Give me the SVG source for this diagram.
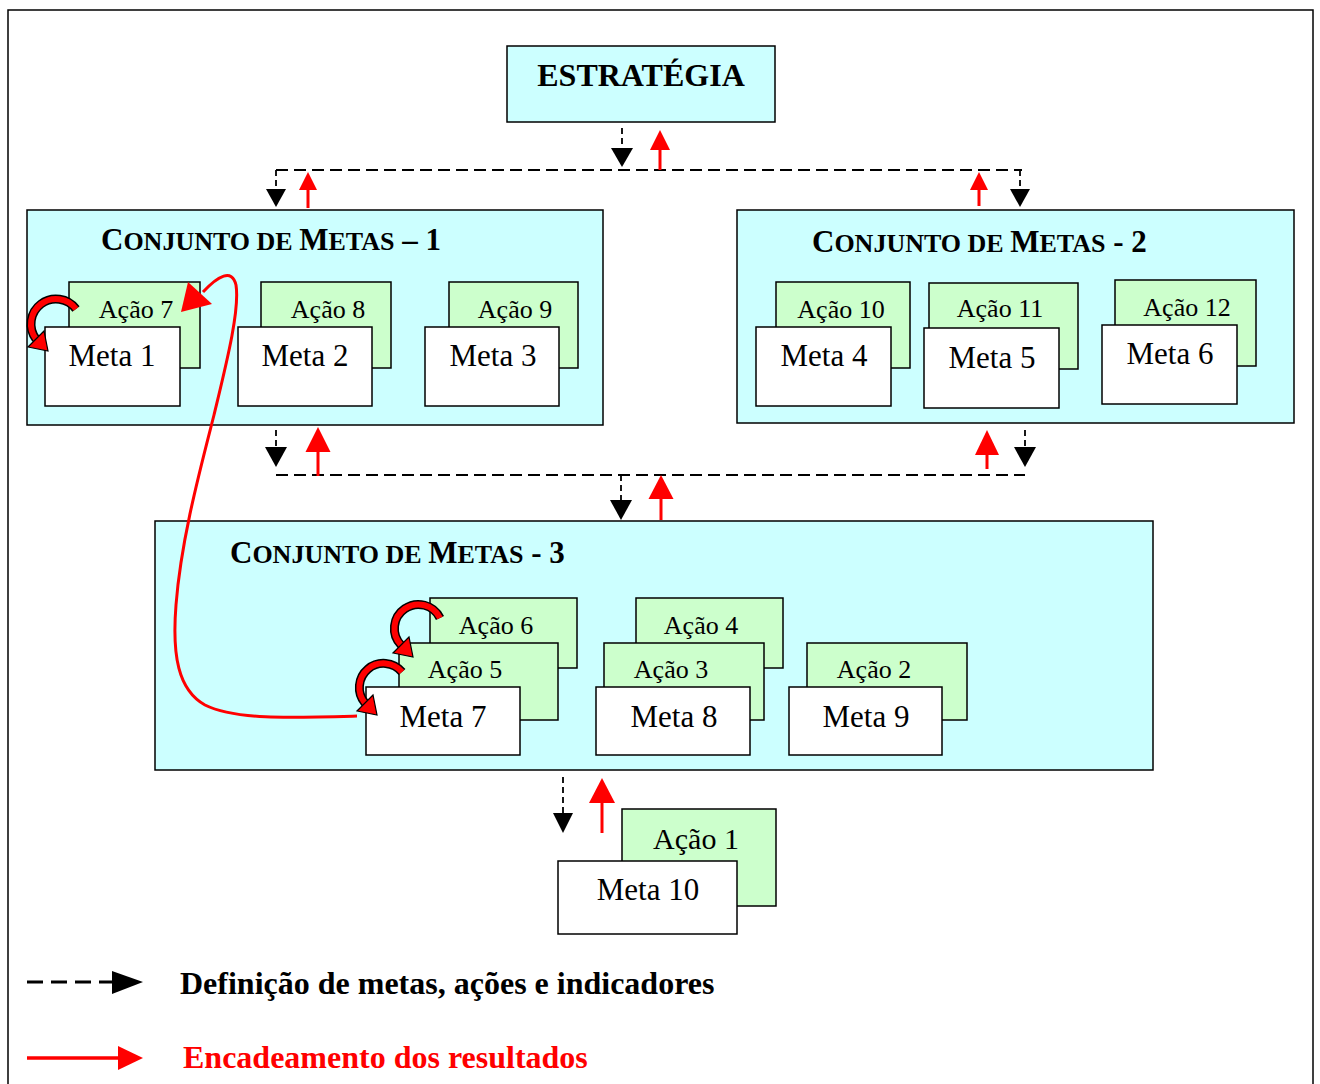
<svg xmlns="http://www.w3.org/2000/svg" width="1320" height="1084" viewBox="0 0 1320 1084">
<style>
.box{fill:#CCFFFF;stroke:#000;stroke-width:1.5}
.act{fill:#CCFFCC;stroke:#000;stroke-width:1.5}
.meta{fill:#FFFFFF;stroke:#000;stroke-width:1.5}
.t{font-family:"Liberation Serif","Times New Roman",serif;fill:#000}
.ta{font-size:26px;text-anchor:middle}
.tm{font-size:31px;text-anchor:middle}
.b{font-weight:bold}
.dash{stroke:#000;stroke-width:2;stroke-dasharray:12 6;fill:none}
.vd{stroke:#000;stroke-width:1.8;stroke-dasharray:6 4;fill:none}
.bh{fill:#000}
.rl{stroke:#FF0000;stroke-width:3;fill:none}
.rh{fill:#FF0000}
.loopo{stroke:#000;stroke-width:9;fill:none}
.loopi{stroke:#FF0000;stroke-width:6;fill:none}
.looph{fill:#FF0000;stroke:#000;stroke-width:1.2}
</style>
<rect x="8" y="10" width="1305" height="1090" fill="#FFFFFF" stroke="#000" stroke-width="1.5"/>

<g id="estrategia">
<rect class="box" x="507" y="46" width="268" height="76"/>
<text class="t b" x="641" y="86" font-size="32" text-anchor="middle">ESTRATÉGIA</text>
</g>

<g id="conjunto1">
<rect class="box" x="27" y="210" width="576" height="215"/>
<text class="t b" x="101" y="250"><tspan font-size="31">C</tspan><tspan font-size="26">ONJUNTO DE </tspan><tspan font-size="31">M</tspan><tspan font-size="26">ETAS</tspan><tspan font-size="31"> – 1</tspan></text>
</g>
<g id="acao7"><rect class="act" x="69" y="282" width="131" height="86"/><text class="t ta" x="136" y="318">Ação 7</text></g>
<g id="meta1"><rect class="meta" x="45" y="327" width="135" height="79"/><text class="t tm" x="112" y="366">Meta 1</text></g>
<g id="acao8"><rect class="act" x="261" y="282" width="130" height="86"/><text class="t ta" x="328" y="318">Ação 8</text></g>
<g id="meta2"><rect class="meta" x="238" y="327" width="134" height="79"/><text class="t tm" x="305" y="366">Meta 2</text></g>
<g id="acao9"><rect class="act" x="449" y="282" width="129" height="86"/><text class="t ta" x="515" y="318">Ação 9</text></g>
<g id="meta3"><rect class="meta" x="425" y="327" width="134" height="79"/><text class="t tm" x="493" y="366">Meta 3</text></g>

<g id="conjunto2">
<rect class="box" x="737" y="210" width="557" height="213"/>
<text class="t b" x="812" y="252"><tspan font-size="31">C</tspan><tspan font-size="26">ONJUNTO DE </tspan><tspan font-size="31">M</tspan><tspan font-size="26">ETAS</tspan><tspan font-size="31"> - 2</tspan></text>
</g>
<g id="acao10"><rect class="act" x="776" y="282" width="134" height="86"/><text class="t ta" x="841" y="318">Ação 10</text></g>
<g id="meta4"><rect class="meta" x="756" y="327" width="135" height="79"/><text class="t tm" x="824" y="366">Meta 4</text></g>
<g id="acao11"><rect class="act" x="929" y="283" width="149" height="86"/><text class="t ta" x="1000" y="317">Ação 11</text></g>
<g id="meta5"><rect class="meta" x="924" y="328" width="135" height="80"/><text class="t tm" x="992" y="368">Meta 5</text></g>
<g id="acao12"><rect class="act" x="1115" y="280" width="141" height="86"/><text class="t ta" x="1187" y="316">Ação 12</text></g>
<g id="meta6"><rect class="meta" x="1102" y="325" width="135" height="79"/><text class="t tm" x="1170" y="364">Meta 6</text></g>

<g id="conjunto3">
<rect class="box" x="155" y="521" width="998" height="249"/>
<text class="t b" x="230" y="563"><tspan font-size="31">C</tspan><tspan font-size="26">ONJUNTO DE </tspan><tspan font-size="31">M</tspan><tspan font-size="26">ETAS</tspan><tspan font-size="31"> - 3</tspan></text>
</g>
<g id="acao6"><rect class="act" x="430" y="598" width="147" height="70"/><text class="t ta" x="496" y="634">Ação 6</text></g>
<g id="acao5"><rect class="act" x="399" y="643" width="159" height="77"/><text class="t ta" x="465" y="678">Ação 5</text></g>
<g id="meta7"><rect class="meta" x="366" y="687" width="154" height="68"/><text class="t tm" x="443" y="727">Meta 7</text></g>
<g id="acao4"><rect class="act" x="636" y="598" width="147" height="70"/><text class="t ta" x="701" y="634">Ação 4</text></g>
<g id="acao3"><rect class="act" x="604" y="643" width="160" height="77"/><text class="t ta" x="671" y="678">Ação 3</text></g>
<g id="meta8"><rect class="meta" x="596" y="687" width="154" height="68"/><text class="t tm" x="674" y="727">Meta 8</text></g>
<g id="acao2"><rect class="act" x="807" y="643" width="160" height="77"/><text class="t ta" x="874" y="678">Ação 2</text></g>
<g id="meta9"><rect class="meta" x="789" y="687" width="153" height="68"/><text class="t tm" x="866" y="727">Meta 9</text></g>

<g id="acao1"><rect class="act" x="622" y="809" width="154" height="97"/><text class="t" x="696" y="849" font-size="30" text-anchor="middle">Ação 1</text></g>
<g id="meta10"><rect class="meta" x="558" y="861" width="179" height="73"/><text class="t" x="648" y="900" font-size="31" text-anchor="middle">Meta 10</text></g>

<g id="connectors">
<line class="dash" x1="276" y1="170" x2="1022" y2="170"/>
<line class="dash" x1="276" y1="475" x2="1025" y2="475"/>
<line class="vd" x1="622" y1="128" x2="622" y2="148"/><polygon class="bh" points="611,148 633,148 622,167"/>
<line class="vd" x1="276" y1="170" x2="276" y2="190"/><polygon class="bh" points="266,189 286,189 276,207"/>
<line class="vd" x1="1020" y1="170" x2="1020" y2="190"/><polygon class="bh" points="1010,189 1030,189 1020,207"/>
<line class="vd" x1="276" y1="430" x2="276" y2="448"/><polygon class="bh" points="265,447 287,447 276,467"/>
<line class="vd" x1="1025" y1="430" x2="1025" y2="448"/><polygon class="bh" points="1014,447 1036,447 1025,467"/>
<line class="vd" x1="621" y1="475" x2="621" y2="501"/><polygon class="bh" points="610,500 632,500 621,520"/>
<line class="vd" x1="563" y1="777" x2="563" y2="814"/><polygon class="bh" points="553,813 573,813 563,833"/>
<line class="rl" x1="660" y1="149" x2="660" y2="170"/><polygon class="rh" points="650,150 670,150 660,130"/>
<line class="rl" x1="308" y1="189" x2="308" y2="208"/><polygon class="rh" points="299,190 317,190 308,172"/>
<line class="rl" x1="979" y1="189" x2="979" y2="206"/><polygon class="rh" points="970,190 988,190 979,172"/>
<line class="rl" x1="318" y1="451" x2="318" y2="476"/><polygon class="rh" points="305.5,452 330.5,452 318,427"/>
<line class="rl" x1="987" y1="454" x2="987" y2="469"/><polygon class="rh" points="975,455 999,455 987,430"/>
<line class="rl" x1="661" y1="498" x2="661" y2="520"/><polygon class="rh" points="648.5,499 673.5,499 661,475"/>
<line class="rl" x1="602" y1="802" x2="602" y2="833"/><polygon class="rh" points="589,803 615,803 602,778"/>
<path class="loopo" d="M 76 309 A 24 24 0 1 0 36 339"/>
<path class="loopi" d="M 76 309 A 24 24 0 1 0 36 339"/>
<polygon class="looph" points="44,331 28,347 48,351"/>
<path class="loopo" d="M 440 618 A 24 24 0 1 0 401 645"/>
<path class="loopi" d="M 440 618 A 24 24 0 1 0 401 645"/>
<polygon class="looph" points="409,637 393,653 413,657"/>
<path class="loopo" d="M 402 672 A 24 24 0 1 0 365 703"/>
<path class="loopi" d="M 402 672 A 24 24 0 1 0 365 703"/>
<polygon class="looph" points="373,695 357,711 377,715"/>
<path class="rl" stroke-width="3.5" d="M 357 716 C 290 718 235 720 205 705 C 178 690 172 655 176 605 C 181 540 200 470 214 415 C 226 365 240 310 236 285 C 232 268 218 276 203 292"/>
<polygon class="rh" points="181,312 188,282 212,304"/>
</g>

<g id="legend">
<line stroke="#000" stroke-width="3" stroke-dasharray="16 8" x1="27" y1="982" x2="112" y2="982"/>
<polygon class="bh" points="112,971 112,994 143,982"/>
<text class="t b" x="180" y="994" font-size="32">Definição de metas, ações e indicadores</text>
<line stroke="#FF0000" stroke-width="3.5" x1="27" y1="1058" x2="120" y2="1058"/>
<polygon class="rh" points="118,1046 118,1070 143,1058"/>
<text class="t b" x="183" y="1068" font-size="32" style="fill:#FF0000">Encadeamento dos resultados</text>
</g>
</svg>
